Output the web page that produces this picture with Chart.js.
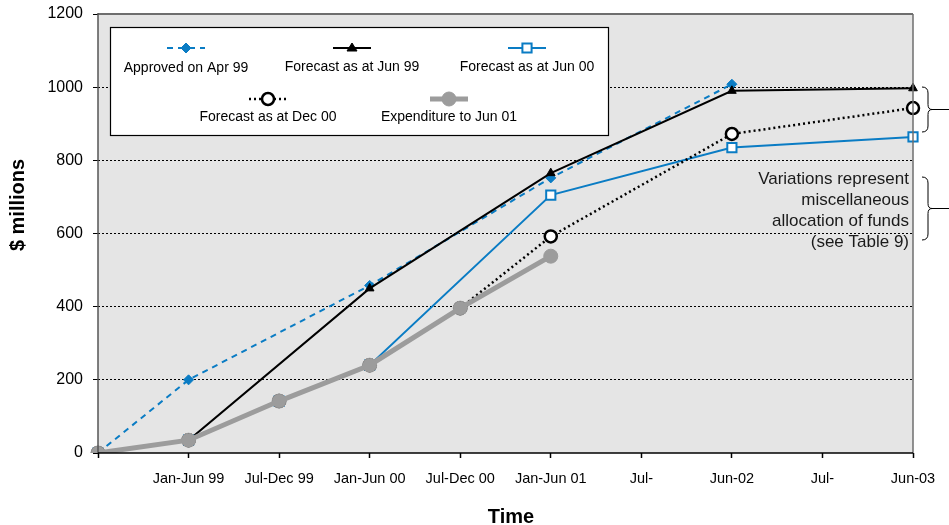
<!DOCTYPE html>
<html>
<head>
<meta charset="utf-8">
<script src="https://cdn.jsdelivr.net/npm/chart.js@4/dist/chart.umd.min.js"></script>
<style>
  html, body { margin: 0; padding: 0; background: #ffffff; }
  #wrap { width: 949px; height: 525px; position: relative; }
</style>
</head>
<body>
<div id="wrap"><canvas id="c" width="949" height="525"></canvas></div>
<script>
// ---- Data ----
const categories = ["", "Jan-Jun 99", "Jul-Dec 99", "Jan-Jun 00", "Jul-Dec 00", "Jan-Jun 01", "Jul-", "Jun-02", "Jul-", "Jun-03"];
const approvedApr99   = [0, 200, null, 458, null, 752, null, 1008, null, null];
const forecastJun99   = [0, 35, null, 450, null, 765, null, 990, null, 997];
const forecastJun00   = [0, 35, 142, 240, null, 705, null, 835, null, 864];
const forecastDec00   = [0, 35, 142, 240, 396, 592, null, 872, null, 943];
const expenditureJun01 = [0, 35, 142, 240, 396, 538, null, null, null, null];
const seriesNames = ["Approved on Apr 99", "Forecast as at Jun 99", "Forecast as at Jun 00", "Forecast as at Dec 00", "Expenditure to Jun 01"];
const yTicks = [0, 200, 400, 600, 800, 1000, 1200];
const noteLines = ["Variations represent", "miscellaneous", "allocation of funds", "(see Table 9)"];
const xTitle = "Time";
const yTitle = "$ millions";

const FONT = "'Liberation Sans', Arial, sans-serif";
const BLUE = "#0a7cc4";
const GRAY = "#9c9c9c";

const datasets = [
  { label: seriesNames[0], data: approvedApr99, borderColor: BLUE, backgroundColor: BLUE, borderWidth: 2, borderDash: [6, 5],
    pointStyle: 'rectRot', pointRadius: 5, pointBackgroundColor: BLUE, pointBorderColor: BLUE, pointBorderWidth: 1, order: 4 },
  { label: seriesNames[1], data: forecastJun99, borderColor: "#000", backgroundColor: "#000", borderWidth: 2, borderDash: [],
    pointStyle: 'triangle', pointRadius: 5, pointBackgroundColor: "#000", pointBorderColor: "#000", pointBorderWidth: 1, order: 3 },
  { label: seriesNames[2], data: forecastJun00, borderColor: BLUE, backgroundColor: "#fff", borderWidth: 2, borderDash: [],
    pointStyle: 'rect', pointRadius: 6.5, pointBackgroundColor: "#fff", pointBorderColor: BLUE, pointBorderWidth: 2, order: 2 },
  { label: seriesNames[3], data: forecastDec00, borderColor: "#000", backgroundColor: "#fff", borderWidth: 2.5, borderDash: [2, 3],
    pointStyle: 'circle', pointRadius: 6, pointBackgroundColor: "#fff", pointBorderColor: "#000", pointBorderWidth: 2.5, order: 1 },
  { label: seriesNames[4], data: expenditureJun01, borderColor: GRAY, backgroundColor: GRAY, borderWidth: 5, borderDash: [],
    pointStyle: 'circle', pointRadius: 7, pointBackgroundColor: GRAY, pointBorderColor: GRAY, pointBorderWidth: 1, order: 0 }
].map(d => Object.assign({ spanGaps: true, tension: 0, fill: false, pointHoverRadius: d.pointRadius }, d));

function drawMarker(ctx, style, x, y, r, fill, stroke, bw) {
  ctx.save();
  ctx.beginPath();
  if (style === 'circle') {
    ctx.arc(x, y, r, 0, Math.PI * 2);
  } else if (style === 'rect') {
    const h = r * Math.SQRT1_2;
    ctx.rect(x - h, y - h, 2 * h, 2 * h);
  } else if (style === 'rectRot') {
    ctx.moveTo(x, y - r); ctx.lineTo(x + r, y); ctx.lineTo(x, y + r); ctx.lineTo(x - r, y); ctx.closePath();
  } else if (style === 'triangle') {
    const s = r * 1.0;
    ctx.moveTo(x, y - s); ctx.lineTo(x + s, y + s * 0.6); ctx.lineTo(x - s, y + s * 0.6); ctx.closePath();
  }
  ctx.fillStyle = fill; ctx.fill();
  ctx.setLineDash([]);
  ctx.lineWidth = bw; ctx.strokeStyle = stroke; ctx.stroke();
  ctx.restore();
}

const decorPlugin = {
  id: 'decor',
  beforeDraw(chart) {
    const { ctx, chartArea: a } = chart;
    ctx.save();
    ctx.fillStyle = "#e5e5e5";
    ctx.fillRect(a.left, a.top, a.right - a.left, a.bottom - a.top);
    ctx.restore();
  },
  afterDraw(chart) {
    const { ctx, chartArea: a } = chart;
    ctx.save();
    // frame
    ctx.setLineDash([]);
    ctx.strokeStyle = "#6e6e6e"; ctx.lineWidth = 2;
    ctx.beginPath(); ctx.moveTo(a.left, a.top); ctx.lineTo(a.right, a.top); ctx.stroke();
    ctx.lineWidth = 1.5;
    ctx.beginPath(); ctx.moveTo(a.right, a.top); ctx.lineTo(a.right, a.bottom); ctx.stroke();
    ctx.strokeStyle = "#555"; ctx.lineWidth = 1.5;
    ctx.beginPath(); ctx.moveTo(a.left, a.top - 1); ctx.lineTo(a.left, a.bottom); ctx.stroke();
    ctx.strokeStyle = "#000"; ctx.lineWidth = 1.5;
    ctx.beginPath(); ctx.moveTo(a.left, a.bottom); ctx.lineTo(a.right, a.bottom); ctx.stroke();

    // legend box
    const lx = 110, ly = 27, lw = 498, lh = 108;
    ctx.fillStyle = "#fff"; ctx.fillRect(lx, ly, lw, lh);
    ctx.strokeStyle = "#000"; ctx.lineWidth = 1.2;
    ctx.strokeRect(lx + 0.5, ly + 0.5, lw, lh);
    const items = [
      { i: 0, cx: 186, sy: 48, ty: 68 },
      { i: 1, cx: 352, sy: 48, ty: 67 },
      { i: 2, cx: 527, sy: 48, ty: 67 },
      { i: 3, cx: 268, sy: 99, ty: 117 },
      { i: 4, cx: 449, sy: 99, ty: 117 }
    ];
    items.forEach(it => {
      const ds = chart.data.datasets[it.i];
      ctx.save();
      ctx.strokeStyle = ds.borderColor;
      ctx.lineWidth = ds.borderWidth;
      ctx.setLineDash(ds.borderDash || []);
      ctx.beginPath(); ctx.moveTo(it.cx - 19, it.sy); ctx.lineTo(it.cx + 19, it.sy); ctx.stroke();
      ctx.restore();
      drawMarker(ctx, ds.pointStyle, it.cx, it.sy, ds.pointRadius, ds.pointBackgroundColor, ds.pointBorderColor, ds.pointBorderWidth);
      ctx.fillStyle = "#000";
      ctx.font = "14px " + FONT;
      ctx.textAlign = "center"; ctx.textBaseline = "middle";
      ctx.fillText(ds.label, it.cx, it.ty);
    });

    // note
    ctx.fillStyle = "#1a1a1a";
    ctx.font = "17px " + FONT;
    ctx.textAlign = "right"; ctx.textBaseline = "middle";
    noteLines.forEach((t, k) => ctx.fillText(t, 909, 179 + k * 21));

    // braces
    function brace(x, y1, y2) {
      const ym = (y1 + y2) / 2, w = 6;
      ctx.beginPath();
      ctx.moveTo(x, y1);
      ctx.quadraticCurveTo(x + w, y1, x + w, y1 + 6);
      ctx.lineTo(x + w, ym - 5);
      ctx.quadraticCurveTo(x + w, ym, x + w + 4, ym);
      ctx.quadraticCurveTo(x + w, ym, x + w, ym + 5);
      ctx.lineTo(x + w, y2 - 6);
      ctx.quadraticCurveTo(x + w, y2, x, y2);
      ctx.moveTo(x + w + 4, ym); ctx.lineTo(949, ym);
      ctx.strokeStyle = "#000"; ctx.lineWidth = 1; ctx.setLineDash([]);
      ctx.stroke();
    }
    brace(922, 87, 132);
    brace(922, 177, 240);

    // axis titles
    ctx.fillStyle = "#000";
    ctx.font = "bold 20px " + FONT;
    ctx.textAlign = "center"; ctx.textBaseline = "alphabetic";
    ctx.fillText(xTitle, 511, 523);
    ctx.save();
    ctx.translate(24, 205);
    ctx.rotate(-Math.PI / 2);
    ctx.fillText(yTitle, 0, 0);
    ctx.restore();
    ctx.restore();
  }
};

new Chart(document.getElementById('c'), {
  type: 'line',
  data: { labels: categories, datasets: datasets },
  options: {
    responsive: false,
    animation: false,
    events: [],
    layout: { padding: { top: 14, right: 36, left: 0, bottom: 0 } },
    plugins: { legend: { display: false }, tooltip: { enabled: false }, title: { display: false } },
    scales: {
      x: {
        type: 'category',
        offset: false,
        afterFit: s => { s.height = 72; s.paddingLeft = 0; s.paddingRight = 0; },
        grid: { display: true, drawOnChartArea: false, drawTicks: true, tickLength: 5, tickColor: "#000", tickWidth: 1.5 },
        border: { display: false },
        ticks: { color: "#000", font: { family: FONT, size: 14.5 }, padding: 12, maxRotation: 0, minRotation: 0, autoSkip: false },
        title: { display: false }
      },
      y: {
        min: 0, max: 1200,
        afterFit: s => { s.width = 98; s.paddingTop = 0; s.paddingBottom = 0; },
        afterBuildTicks: s => { s.ticks = yTicks.map(v => ({ value: v })); },
        grid: {
          color: ctx => (ctx.tick && (ctx.tick.value === 0 || ctx.tick.value === 1200)) ? 'rgba(0,0,0,0)' : '#000',
          lineWidth: 1, drawTicks: true, tickLength: 5, tickColor: "#000", tickBorderDash: [], tickWidth: 1
        },
        border: { display: false, dash: [2, 2] },
        ticks: { color: "#000", font: { family: FONT, size: 16 }, padding: 10, callback: v => String(v) },
        title: { display: false }
      }
    }
  },
  plugins: [decorPlugin]
});
</script>
</body>
</html>
